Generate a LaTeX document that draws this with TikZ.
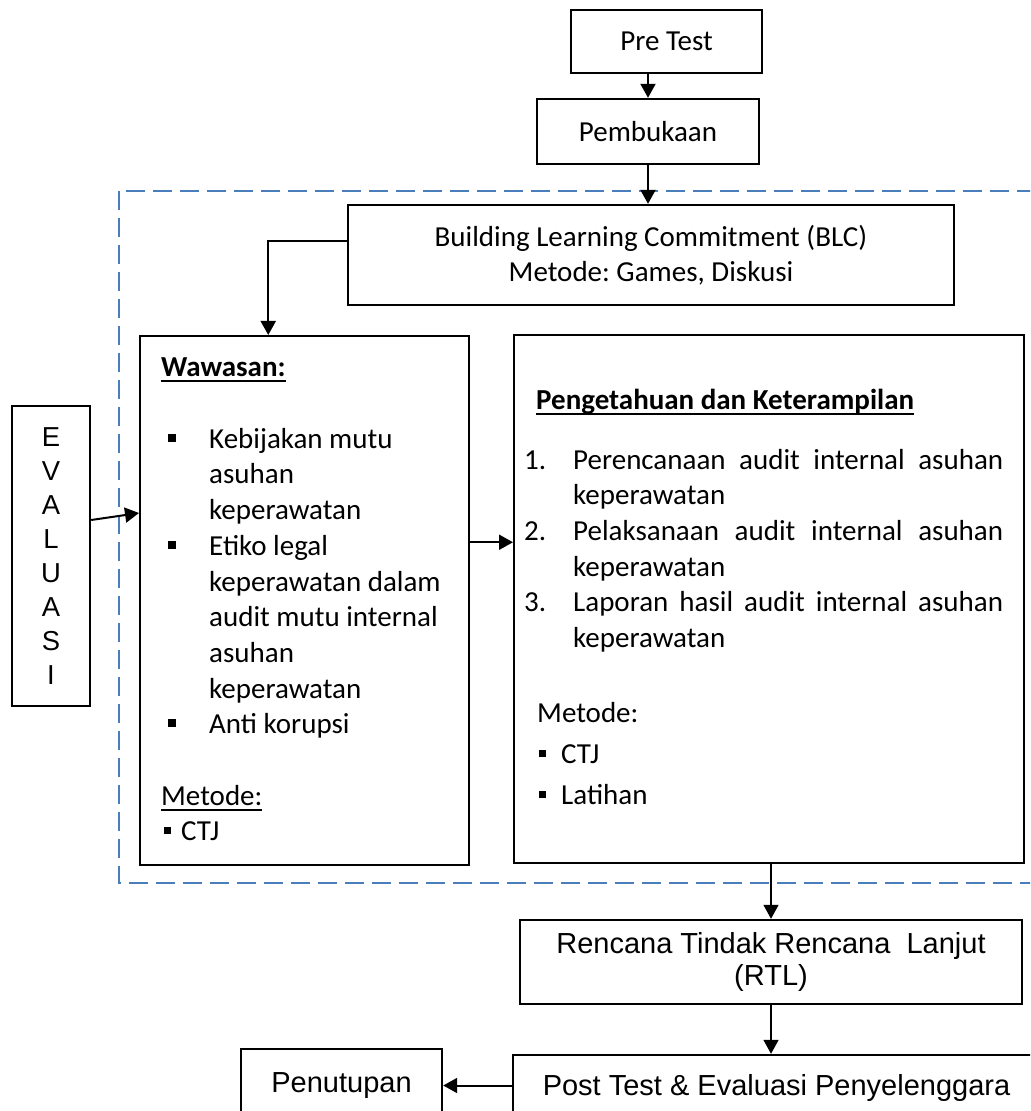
\documentclass[tikz,border=0pt]{standalone}
\usepackage{fontspec}
\setmainfont{Carlito}
\newfontfamily\arialfont{Liberation Sans}
\usetikzlibrary{positioning, arrows.meta, calc}
\definecolor{frameblue}{RGB}{74,126,187}
\tikzstyle{box}       = [draw, line width=1.2pt, inner sep=0pt, align=center]
\tikzstyle{flowarrow} = [-{Triangle[length=7pt,width=7.5pt]}, line width=1pt]
\newsavebox{\headbox}
\newcommand{\headline}[1]{\sbox{\headbox}{#1}\rlap{\rule[-3pt]{\wd\headbox}{0.9pt}}\usebox{\headbox}}
\newcommand{\sqbul}[1]{\rule[3.3pt]{#1}{#1}}
\frenchspacing

\begin{document}
\begin{tikzpicture}[x=0.5pt, y=-0.5pt, font=\fontsize{14.5}{17.85}\selectfont]
% page: 1030 x 1111 px, 1px = 0.5pt, y runs down
\useasboundingbox (0,0) rectangle (1030,1111);
\clip (0,0) rectangle (1030,1111);
% dashed frame round the core sessions
\draw[frameblue, line width=1.3pt, dash pattern=on 9.5pt off 4pt] (119,191) rectangle (1060,883);
% opening
\node[box, minimum width=95.5pt, minimum height=31.5pt] (pretest) at (666.5,41.5) {Pre Test};
\node[box, minimum width=111pt, minimum height=32.5pt] (pembukaan) at (648,131.5) {Pembukaan};
\node[box, minimum width=303pt, minimum height=50pt, font=\fontsize{14.5}{17.5}\selectfont] (blc) at (651,255)
  {Building Learning Commitment (BLC)\\Metode: Games, Diskusi};
% evaluation bar
\node[box, minimum width=39pt, minimum height=150pt, font=\arialfont\fontsize{13.7}{16.95}\selectfont] (evaluasi) at (51,556)
  {E\\V\\A\\L\\U\\A\\S\\I};
% wawasan
\node[box, anchor=north west] (wawasan) at (139,335) {\parbox[t][264.5pt][t]{164.5pt}{%
  \rule{0pt}{20pt}\hspace*{10.5pt}\headline{\textbf{Wawasan:}}\\[18.15pt]
  \hspace*{14pt}\makebox[20.5pt][l]{\sqbul{4pt}}Kebijakan mutu\\
  \hspace*{34.5pt}asuhan\\
  \hspace*{34.5pt}keperawatan\\
  \hspace*{14pt}\makebox[20.5pt][l]{\sqbul{4pt}}Etiko legal\\
  \hspace*{34.5pt}keperawatan dalam\\
  \hspace*{34.5pt}audit mutu internal\\
  \hspace*{34.5pt}asuhan\\
  \hspace*{34.5pt}keperawatan\\
  \hspace*{14pt}\makebox[20.5pt][l]{\sqbul{4pt}}Anti korupsi\\[17.85pt]
  \hspace*{10.5pt}\headline{Metode:}\\
  \hspace*{12pt}\makebox[8.5pt][l]{\sqbul{3.5pt}}CTJ}};
% pengetahuan dan keterampilan
\node[box, anchor=north west] (pengetahuan) at (513,334) {\parbox[t][264pt][t]{255pt}{%
  \rule{0pt}{37pt}\hspace*{11pt}\headline{\textbf{Pengetahuan dan Keterampilan}}\\[12.15pt]
  \hspace*{5pt}\makebox[24.5pt][l]{1.}\makebox[215pt][s]{Perencanaan audit internal asuhan}\\
  \hspace*{29.5pt}keperawatan\\
  \hspace*{5pt}\makebox[24.5pt][l]{2.}\makebox[215pt][s]{Pelaksanaan audit internal asuhan}\\
  \hspace*{29.5pt}keperawatan\\
  \hspace*{5pt}\makebox[24.5pt][l]{3.}\makebox[215pt][s]{Laporan hasil audit internal asuhan}\\
  \hspace*{29.5pt}keperawatan\\[19.65pt]
  \hspace*{11.5pt}Metode:\\[2.65pt]
  \hspace*{12.5pt}\makebox[11pt][l]{\sqbul{3.5pt}}CTJ\\[2.65pt]
  \hspace*{12.5pt}\makebox[11pt][l]{\sqbul{3.5pt}}Latihan}};
% closing
\node[box, minimum width=251pt, minimum height=42pt, font=\arialfont\fontsize{14.5}{16}\selectfont] (rtl) at (771,962)
  {Rencana Tindak Rencana\ \ Lanjut\\(RTL)};
\node[box, minimum width=263.5pt, minimum height=32.5pt, font=\arialfont\fontsize{14.5}{16}\selectfont] (posttest) at (776.5,1087.5)
  {Post Test \& Evaluasi Penyelenggara};
\node[box, minimum width=100.5pt, minimum height=36.5pt, font=\arialfont\fontsize{14.5}{16}\selectfont] (penutupan) at (341.5,1085.5)
  {Penutupan};
% arrows
\coordinate (wout) at ($(wawasan.north east)!0.39!(wawasan.south east)$);
\draw[flowarrow] (pretest.south -| pembukaan.north) -- (pembukaan.north);
\draw[flowarrow] (pembukaan.south) -- (pembukaan.south |- blc.north);
\draw[flowarrow] ([yshift=7pt]blc.west) -| ($(wawasan.north west)!0.39!(wawasan.north east)$);
\draw[flowarrow] ([yshift=18pt]evaluasi.east) -- ($(wawasan.north west)!0.335!(wawasan.south west)$);
\draw[flowarrow] (wout) -- (wout -| pengetahuan.west);
\draw[flowarrow, line width=0.8pt] (rtl.north |- pengetahuan.south) -- (rtl.north);
\draw[flowarrow, line width=0.8pt] (rtl.south) -- (rtl.south |- posttest.north);
\draw[flowarrow] (posttest.west |- penutupan.east) -- (penutupan.east);
\end{tikzpicture}
\end{document}
